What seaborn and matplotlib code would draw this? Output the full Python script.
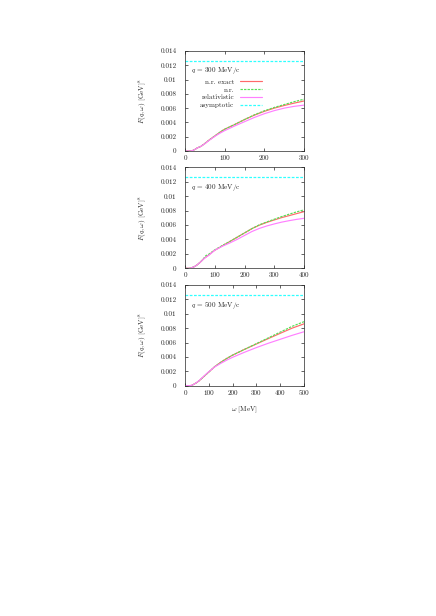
import matplotlib
matplotlib.use("Agg")
import matplotlib.pyplot as plt
import seaborn as sns
import pandas as pd

# ---------------- data ----------------
q_values = [300, 400, 500]
xmax = [300, 400, 500]
asymptotic = 0.0126

omega_300 = [0, 10, 15, 20, 25, 30, 40, 50, 60, 70, 80, 90, 100, 125, 150, 175, 200, 225, 250, 275, 300]
nr_exact_300 = [0, 0, 0, 0.00008, 0.00022, 0.0004, 0.00065, 0.00105, 0.0015, 0.0019, 0.0023, 0.0027,
                0.00305, 0.0037, 0.0044, 0.00502, 0.00555, 0.006, 0.00637, 0.0067, 0.0070]
nr_300 = [0, 0, 0, 0.00008, 0.00022, 0.0004, 0.00065, 0.00105, 0.0015, 0.0019, 0.0023, 0.0027,
          0.00305, 0.0037, 0.0044, 0.00507, 0.00563, 0.0061, 0.0065, 0.0069, 0.00725]
rel_300 = [0, 0, 0, 0.00008, 0.00022, 0.0004, 0.00065, 0.00102, 0.00145, 0.00185, 0.00222, 0.00255,
           0.00285, 0.0035, 0.0041, 0.0047, 0.00522, 0.00565, 0.006, 0.00625, 0.00642]

omega_400 = [0, 10, 15, 20, 30, 40, 50, 60, 65, 70, 80, 90, 100, 125, 150, 175, 200, 225, 250, 275,
             300, 325, 350, 375, 400]
nr_exact_400 = [0, 0, 0, 0.00004, 0.0002, 0.00045, 0.0008, 0.0012, 0.0014, 0.00155, 0.00185, 0.0022,
                0.0025, 0.0031, 0.0037, 0.0043, 0.0049, 0.0055, 0.00598, 0.00637, 0.0067, 0.00703,
                0.0073, 0.00758, 0.00785]
nr_400 = [0, 0, 0, 0.00004, 0.0002, 0.00045, 0.0008, 0.0012, 0.0015, 0.00175, 0.00195, 0.00225,
          0.00255, 0.00315, 0.0037, 0.0043, 0.0049, 0.0055, 0.00603, 0.00643, 0.0068, 0.00717,
          0.0075, 0.00782, 0.0081]
rel_400 = [0, 0, 0, 0.00004, 0.0002, 0.00045, 0.0008, 0.00118, 0.00138, 0.00152, 0.0018, 0.00215,
           0.0025, 0.00305, 0.0035, 0.004, 0.00455, 0.0051, 0.00553, 0.00587, 0.00615, 0.0064,
           0.0066, 0.00678, 0.00693]

omega_500 = [0, 20, 25, 30, 40, 50, 60, 75, 100, 125, 150, 175, 200, 250, 300, 350, 400, 450, 500]
nr_exact_500 = [0, 0, 0.00003, 0.00008, 0.00025, 0.00045, 0.0007, 0.00115, 0.0019, 0.00265, 0.00325,
                0.00378, 0.00425, 0.00505, 0.0058, 0.00655, 0.00728, 0.008, 0.0086]
nr_500 = [0, 0, 0.00003, 0.00008, 0.00025, 0.00045, 0.0007, 0.00115, 0.0019, 0.00265, 0.00325,
          0.00378, 0.00425, 0.00505, 0.00585, 0.00665, 0.00745, 0.00825, 0.0089]
rel_500 = [0, 0, 0.00003, 0.00008, 0.00025, 0.00047, 0.00073, 0.0012, 0.00195, 0.00262, 0.0031,
           0.00355, 0.00395, 0.00465, 0.0053, 0.0059, 0.00645, 0.007, 0.0075]

series_labels = ["n.r. exact", "n.r.", "relativistic", "asymptotic"]
yticks = [0, 0.002, 0.004, 0.006, 0.008, 0.010, 0.012, 0.014]
ytick_labels = ["0", "0.002", "0.004", "0.006", "0.008", "0.01", "0.012", "0.014"]
xtick_sets = [[0, 100, 200, 300], [0, 100, 200, 300, 400], [0, 100, 200, 300, 400, 500]]

panels = [
    (omega_300, nr_exact_300, nr_300, rel_300),
    (omega_400, nr_exact_400, nr_400, rel_400),
    (omega_500, nr_exact_500, nr_500, rel_500),
]

# ---------------- style ----------------
sns.set_style("ticks")
plt.rcParams["font.family"] = ["cmr10", "DejaVu Serif"]
plt.rcParams["mathtext.fontset"] = "cm"
plt.rcParams["axes.formatter.use_mathtext"] = True
plt.rcParams["axes.unicode_minus"] = False

FS = 5.1
colors = {"n.r. exact": "#ff6a6a", "n.r.": "#55e055", "relativistic": "#ff80ff", "asymptotic": "#30ffff"}
dashes = {"n.r. exact": None, "n.r.": (2.0, 1.0), "relativistic": None, "asymptotic": (2.2, 1.2)}

fig = plt.figure(figsize=(4.36, 6.16), dpi=100)
W, H = 436.0, 616.0
rects = [
    (185 / W, (H - 151) / H, 119 / W, 100 / H),
    (185 / W, (H - 268.3) / H, 119 / W, 101 / H),
    (185 / W, (H - 385.7) / H, 119 / W, 100.7 / H),
]

for i, (rect, (om, ne, nr, rel)) in enumerate(zip(rects, panels)):
    ax = fig.add_axes(rect)
    df = pd.DataFrame({"omega": om, "n.r. exact": ne, "n.r.": nr, "relativistic": rel})
    for name in ["n.r. exact", "n.r.", "relativistic"]:
        sns.lineplot(data=df, x="omega", y=name, ax=ax, color=colors[name], lw=0.85,
                     label=name, legend=False)
        if dashes[name] is not None:
            ax.get_lines()[-1].set_dashes(dashes[name])
    dfa = pd.DataFrame({"omega": [0, xmax[i]], "asym": [asymptotic, asymptotic]})
    sns.lineplot(data=dfa, x="omega", y="asym", ax=ax, color=colors["asymptotic"], lw=0.9,
                 label="asymptotic", legend=False)
    ax.get_lines()[-1].set_dashes(dashes["asymptotic"])
    ax.get_lines()[-1].set_color(colors["asymptotic"])

    ax.set_xlim(0, xmax[i])
    ax.set_ylim(0, 0.014)
    ax.set_yticks(yticks)
    ax.set_yticklabels(ytick_labels)
    ax.set_xticks(xtick_sets[i])
    ax.set_xticklabels([str(v) for v in xtick_sets[i]])
    ax.tick_params(direction="in", top=True, right=True, length=2.5, width=0.5,
                   labelsize=FS, pad=3)
    ax.tick_params(axis="y", pad=6)
    for sp in ax.spines.values():
        sp.set_linewidth(0.5)
        sp.set_visible(True)
    ax.set_ylabel(r"$F(q,\omega)$ [GeV]$^8$", fontsize=FS)
    ax.yaxis.set_label_coords(-0.30, 0.5)
    if i == 2:
        ax.set_xlabel(r"$\omega$ [MeV]", fontsize=FS)
        ax.xaxis.set_label_coords(0.5, -0.19)
    else:
        ax.set_xlabel("")
    ax.text(0.05, 0.80, r"$q$ = %d MeV/c" % q_values[i], transform=ax.transAxes,
            fontsize=FS, va="center", ha="left")
    if i == 0:
        h, l = ax.get_legend_handles_labels()
        ax.legend(h, l, loc="upper right", bbox_to_anchor=(0.65, 0.72), frameon=False,
                  markerfirst=False, fontsize=FS, handlelength=3.2, handletextpad=0.8,
                  labelspacing=0.25, borderpad=0, borderaxespad=0)

fig.savefig("out.png", dpi=100)
